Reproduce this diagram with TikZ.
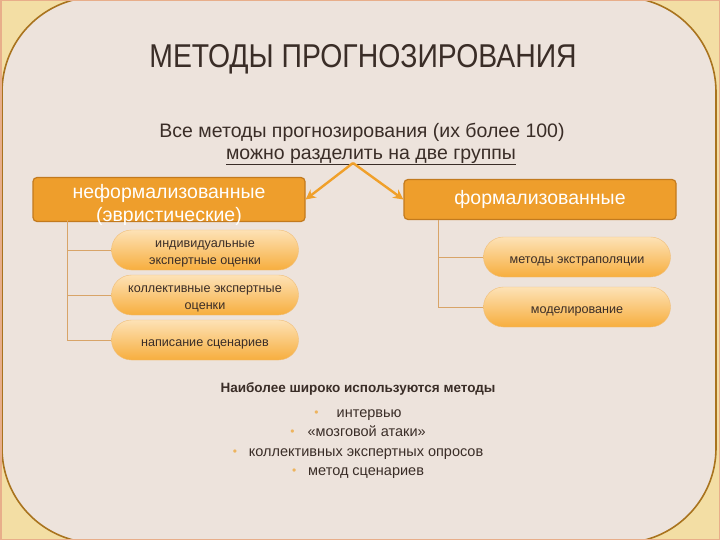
\documentclass[tikz,border=0pt]{standalone}
\usepackage{fontspec}
\setmainfont{Liberation Sans}
\newfontfamily\narrowfont[FakeStretch=0.86]{Liberation Sans}
\usetikzlibrary{arrows.meta,positioning}

\definecolor{paper}{HTML}{EDE3DC}
\definecolor{wood}{HTML}{F3DEA4}
\definecolor{rim}{HTML}{A9731E}
\definecolor{edge}{HTML}{E8AE8A}
\definecolor{ink}{HTML}{3A2D27}
\definecolor{groupfill}{HTML}{EE9E2C}
\definecolor{groupline}{HTML}{C27A1E}
\definecolor{pilltop}{HTML}{FDE2B6}
\definecolor{pillbottom}{HTML}{F7AE3E}
\definecolor{pillline}{HTML}{F0BE78}
\definecolor{twig}{HTML}{D8A468}
\definecolor{forkline}{HTML}{F0A02A}
\definecolor{dot}{HTML}{EDB45E}

\newcommand{\usagedot}{{\color{dot}\raisebox{1pt}{\fontsize{12}{12}\selectfont\textbullet}}}
\newcommand{\pilllines}[1]{\raisebox{-3pt}[\height][\depth]{\begin{tabular}{@{}c@{}}#1\end{tabular}}}

\tikzset{
  groupbox/.style={rectangle, rounded corners=4pt, draw=groupline, line width=1.2pt, fill=groupfill,
    minimum width=272pt, minimum height=40pt, inner sep=0pt, text=white, align=center,
    font=\fontsize{19.5}{23}\selectfont},
  pill/.style={rectangle, rounded corners=20pt, draw=pillline, top color=pilltop, bottom color=pillbottom,
    minimum width=187pt, minimum height=40pt, inner sep=0pt, text=ink,
    font=\fontsize{12.6}{17}\selectfont},
  branch/.style={draw=twig, line width=0.9pt},
  splitarrow/.style={draw=forkline, line width=2.4pt, -{Stealth[length=10pt,width=10pt]}},
}

\begin{document}
\begin{tikzpicture}[x=1pt,y=-1pt]
  \useasboundingbox (0,0) rectangle (720,540);
  \clip (0,0) rectangle (720,540);
  % frame and panel
  \fill[wood] (0,0) rectangle (720,540);
  \draw[rim, line width=1.6pt, fill=paper, rounded corners=95pt] (2,-3) rectangle (716,543);
  \draw[edge, line width=1.5pt] (0.75,0.75) rectangle (719.25,539.25);

  \node[text=ink, font=\narrowfont\fontsize{33}{38}\selectfont] (title) at (363,59) {МЕТОДЫ ПРОГНОЗИРОВАНИЯ};
  \node[text=ink, align=center, font=\fontsize{19.5}{22}\selectfont] (intro) at (362,144)
    {Все методы прогнозирования (их более 100)\\ \hspace*{18pt}\underline{можно разделить на две группы}};
  \coordinate (fork) at (353,163);

  \node[groupbox, text height=44pt, text depth=-7pt] (informal) at (169,199.5) {неформализованные\\(эвристические)};
  \node[groupbox] (formal) at (540,199.5) {формализованные};
  \draw[splitarrow] (fork) -- (informal.east);
  \draw[splitarrow] (fork) -- (formal.west);

  \node[pill] (single) at (205,250) {\pilllines{индивидуальные\\экспертные оценки}};
  \node[pill] (collective) at (205,295) {\pilllines{коллективные экспертные\\оценки}};
  \node[pill] (scenario) at (205,340) {\pilllines{написание сценариев}};
  \node[pill] (extrapol) at (577,257) {\pilllines{методы экстраполяции}};
  \node[pill] (modelling) at (577,307) {\pilllines{моделирование}};

  \coordinate (lroot) at (67,220);
  \coordinate (rroot) at (438,220);
  \draw[branch] (lroot) |- (scenario.west);
  \draw[branch] (lroot |- single.west) -- (single.west);
  \draw[branch] (lroot |- collective.west) -- (collective.west);
  \draw[branch] (rroot) |- (modelling.west);
  \draw[branch] (rroot |- extrapol.west) -- (extrapol.west);

  \node[text=ink, align=center, font=\fontsize{14.5}{19.5}\selectfont] (usage) at (358,431)
    {{\fontsize{13.5}{16}\selectfont\textbf{Наиболее широко используются методы}}\\[5pt]
     \usagedot\hspace{18pt}интервью\\
     \usagedot\hspace{13pt}«мозговой атаки»\\
     \usagedot\hspace{12pt}коллективных экспертных опросов\\
     \usagedot\hspace{12pt}метод сценариев};
\end{tikzpicture}
\end{document}
